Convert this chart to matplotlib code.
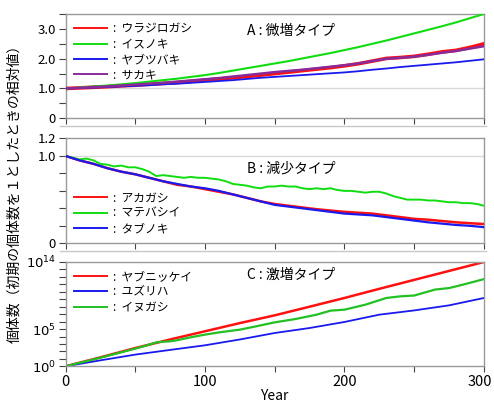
import numpy as np
import matplotlib
matplotlib.use('Agg')
import matplotlib.pyplot as plt
import matplotlib.transforms as mtransforms
from matplotlib.lines import Line2D
from matplotlib.ticker import FixedLocator, NullFormatter, FixedFormatter

plt.rcParams['font.family'] = ['Noto Sans CJK JP', 'DejaVu Sans']
plt.rcParams['mathtext.fontset'] = 'dejavusans'

# ---- panel A: 微増タイプ (relative value, every 10 years) ----
years_a = list(range(0, 301, 10))
urajirogashi = [1.00, 1.02, 1.04, 1.06, 1.09, 1.11, 1.14, 1.17, 1.20, 1.24, 1.28,
                1.32, 1.36, 1.40, 1.45, 1.50, 1.55, 1.60, 1.65, 1.70, 1.76,
                1.83, 1.92, 2.01, 2.04, 2.08, 2.15, 2.23, 2.28, 2.38, 2.50]
isunoki = [1.00, 1.03, 1.07, 1.10, 1.14, 1.18, 1.23, 1.28, 1.33, 1.39, 1.45,
           1.52, 1.60, 1.68, 1.76, 1.84, 1.92, 2.01, 2.10, 2.19, 2.29,
           2.39, 2.50, 2.61, 2.73, 2.85, 2.97, 3.09, 3.22, 3.36, 3.50]
yabutsubaki = [1.00, 1.02, 1.03, 1.05, 1.07, 1.09, 1.11, 1.14, 1.16, 1.19, 1.22,
               1.25, 1.28, 1.32, 1.36, 1.39, 1.42, 1.45, 1.48, 1.51, 1.54,
               1.58, 1.63, 1.67, 1.72, 1.76, 1.80, 1.84, 1.88, 1.93, 1.98]
sakaki = [1.00, 1.02, 1.05, 1.07, 1.10, 1.13, 1.16, 1.19, 1.23, 1.27, 1.31,
          1.35, 1.40, 1.45, 1.50, 1.55, 1.59, 1.63, 1.68, 1.73, 1.78,
          1.84, 1.92, 2.00, 2.03, 2.07, 2.13, 2.20, 2.26, 2.34, 2.42]

# ---- panel B: 減少タイプ ----
years_b = list(range(0, 301, 10))
akagashi = [1.00, 0.95, 0.91, 0.86, 0.82, 0.79, 0.75, 0.71, 0.67, 0.65, 0.62,
            0.59, 0.56, 0.52, 0.48, 0.45, 0.43, 0.41, 0.39, 0.375, 0.36,
            0.35, 0.34, 0.32, 0.30, 0.28, 0.27, 0.255, 0.24, 0.23, 0.22]
tabunoki = [1.00, 0.95, 0.91, 0.86, 0.82, 0.79, 0.75, 0.71, 0.68, 0.65, 0.63,
            0.60, 0.56, 0.52, 0.48, 0.44, 0.42, 0.40, 0.38, 0.36, 0.34,
            0.33, 0.32, 0.30, 0.28, 0.26, 0.24, 0.225, 0.21, 0.20, 0.185]
years_b_green = list(range(0, 301, 5))
matebashii = [1.00, 0.98, 0.96, 0.97, 0.95, 0.91, 0.90, 0.88, 0.89, 0.87, 0.87,
              0.85, 0.82, 0.77, 0.78, 0.77, 0.76, 0.75, 0.76, 0.75, 0.75,
              0.74, 0.73, 0.71, 0.68, 0.67, 0.66, 0.64, 0.63, 0.65, 0.65,
              0.66, 0.65, 0.65, 0.63, 0.62, 0.63, 0.62, 0.63, 0.61, 0.60,
              0.60, 0.59, 0.58, 0.59, 0.59, 0.57, 0.54, 0.52, 0.50, 0.50,
              0.50, 0.49, 0.49, 0.48, 0.47, 0.47, 0.46, 0.46, 0.45, 0.43]

# ---- panel C: 激増タイプ (log10 of relative value) ----
years_c = [0, 25, 50, 75, 100, 125, 150, 175, 200, 225, 250, 275, 300]
yabunikkei_log10 = [0, 1.2, 2.45, 3.6, 4.7, 5.8, 6.84, 8.0, 9.17, 10.4, 11.6, 12.8, 14.0]
yuzuriha_log10 = [0, 0.8, 1.57, 2.2, 2.82, 3.6, 4.47, 5.14, 5.95, 6.93, 7.5, 8.18, 9.17]
years_c_green = [0, 25, 50, 60, 65, 70, 75, 80, 90, 100, 110, 125, 135, 150, 165,
                 180, 190, 200, 215, 230, 240, 250, 265, 275, 285, 300]
inugashi_log10 = [0, 1.15, 2.37, 2.9, 3.2, 3.3, 3.35, 3.5, 3.9, 4.25, 4.55, 4.92,
                  5.3, 5.9, 6.35, 6.93, 7.47, 7.6, 8.27, 9.17, 9.39, 9.5, 10.3,
                  10.5, 10.96, 11.7]

RED = '#ff1010'
GREEN = '#10dd10'
BLUE = '#1a1aee'
PURPLE = '#8a2a9a'
FRAME = '#999999'

fig = plt.figure(figsize=(4.94, 4.04), dpi=100)
axA = fig.add_axes([0.1326, 0.7072, 0.847, 0.2581])
axB = fig.add_axes([0.1326, 0.3978, 0.847, 0.2594])
axC = fig.add_axes([0.1326, 0.0933, 0.847, 0.2582])

for ax in (axA, axB, axC):
    ax.set_xlim(0, 300)
    ax.xaxis.set_major_locator(FixedLocator(range(0, 301, 50)))
    for s in ax.spines.values():
        s.set_color(FRAME)
        s.set_linewidth(1.0)
    ax.tick_params(axis='both', which='both', direction='out', length=4,
                   width=0.8, color='#444444', labelsize=9.5, pad=2)
    ax.tick_params(axis='y', which='both', length=5)

axA.set_xticklabels([])
axB.set_xticklabels([])
axC.set_xticks([0, 50, 100, 150, 200, 250, 300])
axC.set_xticklabels(['0', '', '100', '', '200', '', '300'], fontsize=10.5)
# keep the last label inside the figure
last = axC.get_xticklabels()[-1]
last.set_transform(last.get_transform() +
                   mtransforms.ScaledTranslation(-4 / 100, 0, fig.dpi_scale_trans))

leg_kw = dict(frameon=False, handlelength=2.8, handletextpad=0.5,
              labelspacing=0.2, fontsize=8.5, borderaxespad=0.3)


def thin_handles(leg):
    for h in leg.get_lines():
        h.set_linewidth(1.4)


# panel A
axA.axhline(1.0, color='#d8d8d8', lw=1.0, zorder=0)
axA.plot(years_a, urajirogashi, color=RED, lw=2.6, label=':  ウラジロガシ', zorder=3)
axA.plot(years_a, isunoki, color=GREEN, lw=1.5, label=':  イスノキ', zorder=3)
axA.plot(years_a, yabutsubaki, color=BLUE, lw=1.3, label=':  ヤブツバキ', zorder=3)
axA.plot(years_a, sakaki, color=PURPLE, lw=1.8, label=':  サカキ', zorder=3)
axA.set_ylim(0, 3.5)
axA.yaxis.set_major_locator(FixedLocator([0, 1, 2, 3]))
axA.yaxis.set_major_formatter(FixedFormatter(['0', '1.0', '2.0', '3.0']))
axA.yaxis.set_minor_locator(FixedLocator([0.5, 1.5, 2.5, 3.5]))
thin_handles(axA.legend(loc='upper left', **leg_kw))
axA.text(0.434, 0.84, 'A : 微増タイプ', transform=axA.transAxes, fontsize=10,
         va='center', ha='left')

# panel B
axB.axhline(1.0, color='#d8d8d8', lw=1.0, zorder=0)
axB.plot(years_b, akagashi, color=RED, lw=1.8, label=':  アカガシ', zorder=3)
axB.plot(years_b_green, matebashii, color=GREEN, lw=1.4, label=':  マテバシイ', zorder=3)
axB.plot(years_b, tabunoki, color=BLUE, lw=1.6, label=':  タブノキ', zorder=3)
axB.set_ylim(0, 1.2)
axB.yaxis.set_major_locator(FixedLocator([0, 1.0, 1.2]))
axB.yaxis.set_major_formatter(FixedFormatter(['0', '1.0', '1.2']))
axB.yaxis.set_minor_locator(FixedLocator([0.2, 0.4, 0.6, 0.8]))
thin_handles(axB.legend(loc='lower left', **leg_kw))
axB.text(0.434, 0.71, 'B : 減少タイプ', transform=axB.transAxes, fontsize=10,
         va='center', ha='left')

# panel C
axC.plot(years_c, 10.0 ** np.array(yabunikkei_log10), color=RED, lw=1.8,
         label=':  ヤブニッケイ')
axC.plot(years_c, 10.0 ** np.array(yuzuriha_log10), color=BLUE, lw=1.3,
         label=':  ユズリハ')
axC.plot(years_c_green, 10.0 ** np.array(inugashi_log10), color='#22c022', lw=1.6,
         label=':  イヌガシ')
axC.set_yscale('log')
axC.set_ylim(1, 1e14)
axC.yaxis.set_major_locator(FixedLocator([1, 1e5, 1e14]))
axC.yaxis.set_major_formatter(FixedFormatter(['$10^{0}$', '$10^{5}$', '$10^{14}$']))
axC.yaxis.set_minor_locator(FixedLocator([10.0 ** k for k in range(1, 14) if k != 5]))
axC.yaxis.set_minor_formatter(NullFormatter())
thin_handles(axC.legend(loc='upper left', **leg_kw))
axC.text(0.434, 0.876, 'C : 激増タイプ', transform=axC.transAxes, fontsize=10,
         va='center', ha='left')

axC.set_xlabel('Year', fontsize=10, labelpad=0)

fig.text(0.03, 0.53, '個体数（初期の個体数を１としたときの相対値）', rotation=90,
         ha='center', va='center', fontsize=10)

# thin separators between panels
for yy in (1 - 126 / 404, 1 - 251 / 404):
    fig.add_artist(Line2D([0.121, 0.984], [yy, yy], color='#c8c8c8', lw=1.0))

fig.savefig('out.png', dpi=100)
